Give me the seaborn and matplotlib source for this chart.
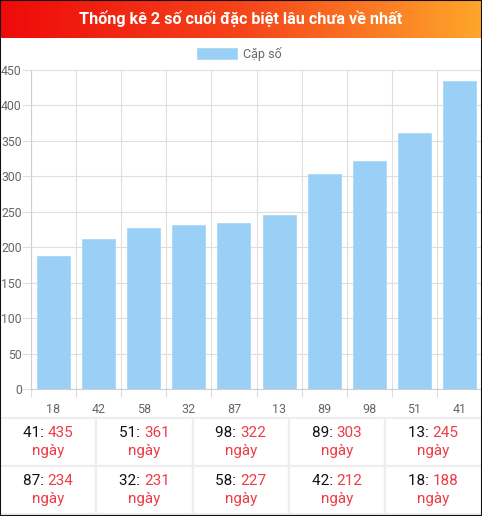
import numpy as np
import pandas as pd
import matplotlib
matplotlib.use("Agg")
import matplotlib.pyplot as plt
from matplotlib.patches import Rectangle
from matplotlib.colors import LinearSegmentedColormap
import seaborn as sns

# ---- data ----
categories = ["18", "42", "58", "32", "87", "13", "89", "98", "51", "41"]
values = [188, 212, 227, 231, 234, 245, 303, 322, 361, 435]
series_label = "Cặp số"
title = "Thống kê 2 số cuối đặc biệt lâu chưa về nhất"
table_pairs = ["41", "51", "98", "89", "13", "87", "32", "58", "42", "18"]
table_days = [435, 361, 322, 303, 245, 234, 231, 227, 212, 188]
day_word = "ngày"
y_ticks = [0, 50, 100, 150, 200, 250, 300, 350, 400, 450]

sns.set_theme(style="white")
plt.rcParams["font.family"] = ["Roboto", "DejaVu Sans"]

W, H = 482, 516
fig = plt.figure(figsize=(W / 100, H / 100), dpi=100)
fig.patch.set_facecolor("white")

def fx(px):
    return px / W

def fy(py):
    return 1 - py / H

# ---- title bar with gradient ----
tax = fig.add_axes([0, fy(38), 1, 38 / H])
cmap = LinearSegmentedColormap.from_list("g", ["#ee0a0a", "#f5441a", "#ffa62b"])
tax.imshow(np.linspace(0, 1, 256).reshape(1, -1), aspect="auto", cmap=cmap,
           extent=[0, 1, 0, 1])
tax.set_axis_off()
tax.text(0.5, 0.5, title, color="white", fontsize=11.6, fontweight="bold",
         ha="center", va="center", transform=tax.transAxes)

# ---- bar chart ----
ax_left, ax_right, ax_top, ax_bottom = 31, 482, 70, 389
ax = fig.add_axes([fx(ax_left), fy(ax_bottom), fx(ax_right - ax_left),
                   (ax_bottom - ax_top) / H])
df = pd.DataFrame({"pair": categories, "days": values})
sns.barplot(data=df, x="pair", y="days", order=categories, color="#9ad0f5",
            saturation=1, width=0.73, ax=ax, label=series_label,
            edgecolor="#a9d7f7", linewidth=0.6)
ax.set_xlim(-0.5, len(categories) - 0.5)
ax.set_ylim(0, 450)
ax.set_yticks(y_ticks)
ax.set_xlabel("")
ax.set_ylabel("")
gridc = "#dedede"
ax.set_xticks(np.arange(-0.5, len(categories)), minor=True)
ax.grid(True, which="minor", axis="x", color=gridc, linewidth=0.8)
ax.grid(True, which="major", axis="y", color=gridc, linewidth=0.8)
ax.set_axisbelow(True)
ax.tick_params(axis="x", which="major", length=0, pad=10, labelsize=9,
               labelcolor="#666666")
ax.tick_params(axis="x", which="minor", length=6, color=gridc, width=0.8,
               bottom=True)
ax.tick_params(axis="y", which="major", length=6.3, color=gridc, width=0.8,
               pad=0.3, labelsize=8.8, labelcolor="#666666", left=True)
for s in ["top", "right"]:
    ax.spines[s].set_visible(False)
for s in ["left", "bottom"]:
    ax.spines[s].set_color("#cfcfcf")
    ax.spines[s].set_linewidth(0.8)

axw = ax_right - ax_left
axh = ax_bottom - ax_top
leg = ax.legend(loc="center",
                bbox_to_anchor=((239 - ax_left) / axw, 1 + (ax_top - 54) / axh),
                frameon=False, handlelength=3.2, handleheight=1.0,
                fontsize=9, handletextpad=0.5, borderaxespad=0, borderpad=0)
for t in leg.get_texts():
    t.set_color("#666666")

# ---- table ----
cell_w = 96.3
row_tops = [418, 466]
row_h = 48
red = "#ec3d48"
renderer = fig.canvas.get_renderer()
for i, (p, d) in enumerate(zip(table_pairs, table_days)):
    r, c = divmod(i, 5)
    x0 = c * cell_w
    y0 = row_tops[r]
    fig.patches.append(Rectangle((fx(x0), fy(y0 + row_h)), fx(cell_w), row_h / H,
                                 transform=fig.transFigure, facecolor="white",
                                 edgecolor="#eeeeee", linewidth=1.6, zorder=1))
    xc = x0 + cell_w / 2
    t1 = fig.text(0, fy(y0 + 15), f"{p}: ", color="#111111", fontsize=11,
                  ha="left", va="center")
    t2 = fig.text(0, fy(y0 + 15), f"{d}", color=red, fontsize=11,
                  ha="left", va="center")
    w1 = t1.get_window_extent(renderer).width
    w2 = t2.get_window_extent(renderer).width
    start = xc - (w1 + w2) / 2
    t1.set_x(fx(start))
    t2.set_x(fx(start + w1))
    fig.text(fx(xc), fy(y0 + 33), day_word, color=red, fontsize=11,
             ha="center", va="center")

# ---- outer border ----
fig.patches.append(Rectangle((0, 0), 1, 1, transform=fig.transFigure,
                             facecolor="none", edgecolor="#111111",
                             linewidth=1.5, zorder=10))

fig.savefig("out.png", dpi=100)
